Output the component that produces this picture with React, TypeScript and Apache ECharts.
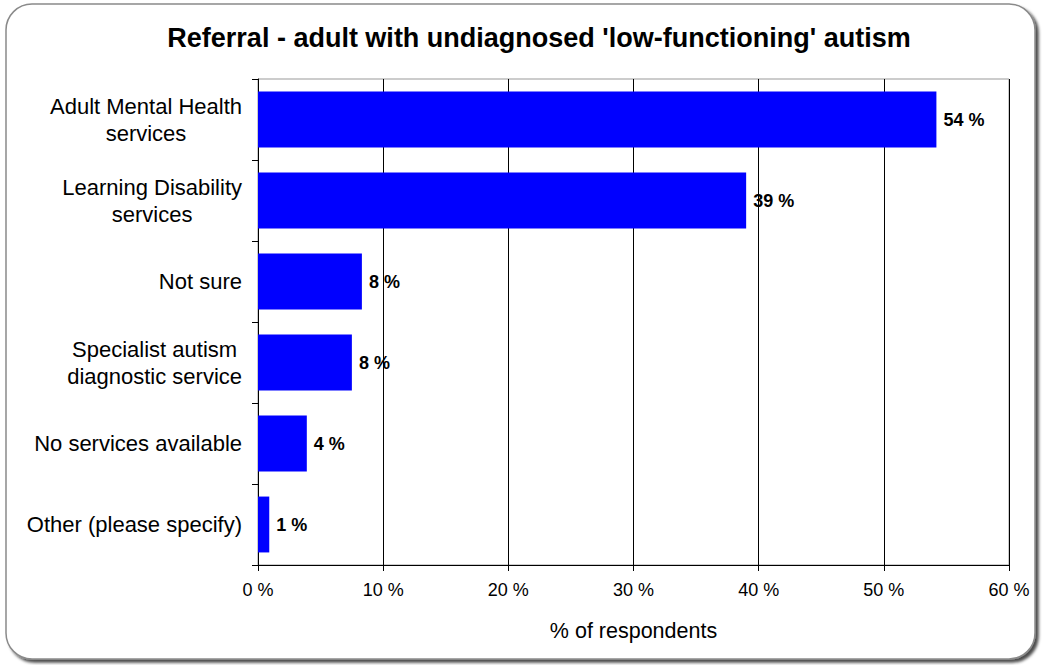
import React, { useEffect, useRef } from "react";
import * as echarts from "echarts";

const categories = [
  "Adult Mental Health\nservices",
  "Learning Disability\nservices",
  "Not sure",
  "Specialist autism\ndiagnostic service",
  "No services available",
  "Other (please specify)",
];
const values = [54.2, 39.0, 8.3, 7.5, 3.9, 0.9];
const xTicksMax = 60;
const xTickStep = 10;

const FONT = "'Liberation Sans', Arial, sans-serif";
const CAT_SIZE = 22;

function measure(text: string, size: number): number {
  const c = document.createElement("canvas").getContext("2d");
  if (!c) return text.length * size * 0.5;
  c.font = `${size}px 'Liberation Sans', Arial, sans-serif`;
  return c.measureText(text).width;
}

export default function App() {
  const ref = useRef<HTMLDivElement>(null);
  useEffect(() => {
    if (!ref.current) return;
    const chart = echarts.init(ref.current, undefined, { renderer: "svg" });

    const rich: Record<string, any> = {};
    categories.forEach((cat, i) => {
      const w = Math.max(...cat.split("\n").map((l) => measure(l, CAT_SIZE))) + 2;
      rich["c" + i] = {
        width: w,
        align: "center",
        fontFamily: FONT,
        fontSize: CAT_SIZE,
        color: "#000",
        lineHeight: 27,
      };
    });

    chart.setOption({
      animation: false,
      textStyle: { fontFamily: FONT },
      title: {
        text: "Referral - adult with undiagnosed 'low-functioning' autism",
        left: 534,
        textAlign: "center",
        top: 19,
        textStyle: { fontFamily: FONT, fontSize: 27, fontWeight: "bold", color: "#000" },
      },
      graphic: [
        {
          type: "rect",
          z: -10,
          shape: { x: 6, y: 4, width: 1029, height: 655, r: 26 },
          style: {
            fill: "#fff",
            stroke: "#8a8a8a",
            lineWidth: 1.5,
            shadowBlur: 3,
            shadowOffsetX: 3,
            shadowOffsetY: 3,
            shadowColor: "rgba(0,0,0,0.7)",
          },
        },
      ],
      grid: {
        left: 258,
        right: 33,
        top: 79,
        bottom: 100,
        show: true,
        borderColor: "#999",
        borderWidth: 1,
        backgroundColor: "transparent",
      },
      xAxis: {
        type: "value",
        min: 0,
        max: xTicksMax,
        interval: xTickStep,
        name: "% of respondents",
        nameLocation: "middle",
        nameGap: 55,
        nameTextStyle: { fontFamily: FONT, fontSize: 21.5, color: "#000" },
        axisLine: { show: true, lineStyle: { color: "#000", width: 1 } },
        axisTick: { show: true, length: 6, lineStyle: { color: "#000" } },
        axisLabel: {
          formatter: "{value} %",
          fontFamily: FONT,
          fontSize: 18,
          color: "#000",
          margin: 16,
        },
        splitLine: { show: true, lineStyle: { color: "#000", width: 1 } },
      },
      yAxis: {
        type: "category",
        data: categories,
        inverse: true,
        axisLine: { show: true, lineStyle: { color: "#000", width: 1 } },
        axisTick: { show: true, length: 6, lineStyle: { color: "#000" } },
        axisLabel: {
          margin: 15,
          align: "right",
          formatter: (v: string, idx: number) =>
            v
              .split("\n")
              .map((l) => `{c${idx}|${l}}`)
              .join("\n"),
          rich,
        },
        splitLine: { show: false },
      },
      series: [
        {
          type: "bar",
          data: values,
          barCategoryGap: "31%",
          itemStyle: { color: "#0000FF" },
          label: {
            show: true,
            position: "right",
            distance: 7,
            formatter: (p: any) => Math.round(p.value) + " %",
            fontFamily: FONT,
            fontSize: 18,
            fontWeight: "bold",
            color: "#000",
          },
        },
      ],
    });
    return () => chart.dispose();
  }, []);
  return (
    <div
      ref={ref}
      style={{ width: 1042, height: 665, position: "absolute", left: 0, top: 0 }}
    />
  );
}
